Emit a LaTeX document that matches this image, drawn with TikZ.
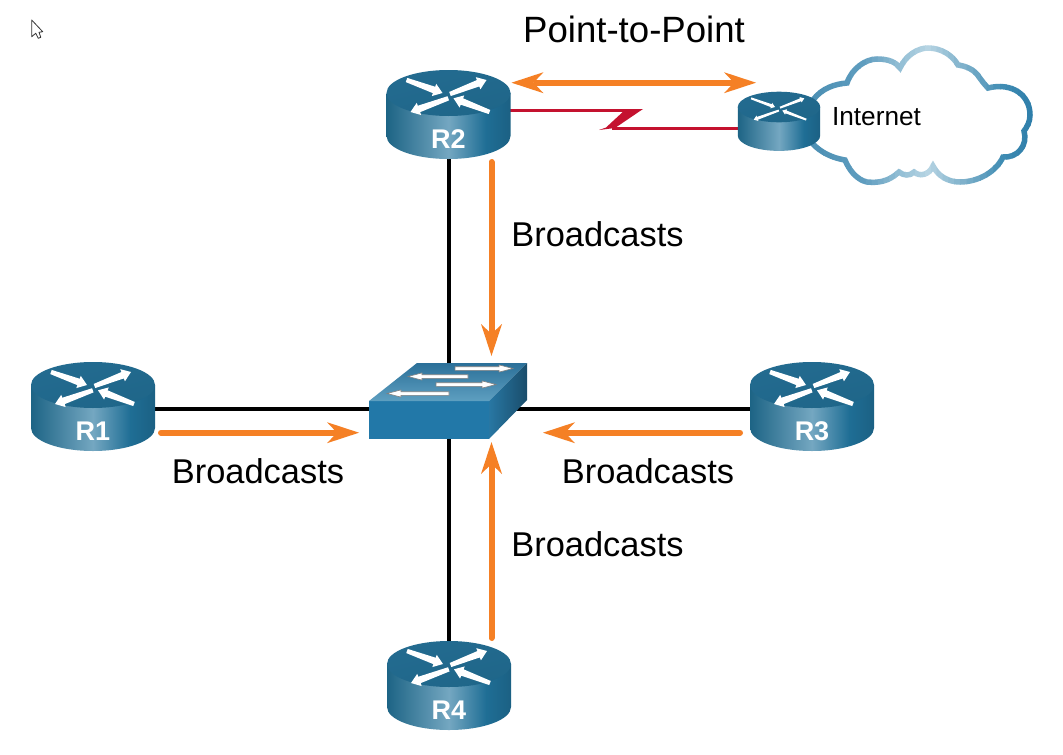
\documentclass[tikz,border=0pt]{standalone}
\usepackage{fontspec}
\setmainfont{Liberation Sans}
\usetikzlibrary{calc,arrows.meta}
\pgfdeclarelayer{back}
\pgfsetlayers{back,main}
\definecolor{orng}{HTML}{F58025}
\definecolor{redl}{HTML}{C4122F}
\definecolor{sa}{HTML}{2C6F93}
\definecolor{sb}{HTML}{1D6485}
\definecolor{sc}{HTML}{74A7C1}
\definecolor{sd}{HTML}{1F6E95}
\definecolor{se}{HTML}{123E57}
\definecolor{ta}{HTML}{236B90}
\definecolor{tb}{HTML}{3682A9}
\definecolor{tc}{HTML}{1F6689}
\definecolor{c0}{HTML}{4B8FB3}
\definecolor{c1}{HTML}{5F9DBF}
\definecolor{c2}{HTML}{8FBCD3}
\definecolor{c3}{HTML}{B6D4E3}
\definecolor{c4}{HTML}{7FB1CB}
\definecolor{c5}{HTML}{3F8CB3}
\definecolor{c6}{HTML}{2A7BA8}
\pgfdeclarehorizontalshading{rside}{100bp}{
  color(0bp)=(sa); color(25bp)=(sb); color(50bp)=(sc); color(65bp)=(sd); color(100bp)=(se)}
\tikzset{
  orangearrow/.style={draw=orng,line width=6,line cap=round,-{Stealth[length=32pt,width=21pt,inset=10pt,line width=0pt]}},
  orangedouble/.style={draw=orng,line width=6,{Stealth[length=32pt,width=21pt,inset=10pt,line width=0pt]}-{Stealth[length=32pt,width=21pt,inset=10pt,line width=0pt]}},
  blackline/.style={draw=black,line width=4},
  serial/.style={draw=redl,line width=2.6},
  biglabel/.style={anchor=base,font=\fontsize{34.4}{40}\selectfont,inner sep=0},
  rlabel/.style={text=white,font=\fontsize{27}{30}\selectfont\bfseries,inner sep=0},
  anchorbox/.style={inner sep=0,minimum width=10,minimum height=10}
}
\newcommand\rtarrow[4]{%
  \coordinate (t) at (#1,#2);
  \coordinate (h) at (#3,#4);
  \coordinate (n) at ($(h)!\dn pt!(t)$);
  \fill[white] ($(t)!\da pt!90:(h)$) -- ($(n)!\db pt!90:(h)$) -- ($(n)!\dc pt!90:(h)$) -- (h)
     -- ($(n)!\dc pt!-90:(h)$) -- ($(n)!\db pt!-90:(h)$) -- ($(t)!\da pt!-90:(h)$) -- cycle;
}
\newcommand\router[5]{% name, cx, cy, scale, label
  \begin{scope}[shift={(#2,#3)},scale=#4]
    \shade[shading=rside] (-62,0) -- (-62,43) .. controls (-62,55.7) and (-34.2,66) .. (0,66)
       .. controls (34.2,66) and (62,55.7) .. (62,43) -- (62,0) -- cycle;
    \shade[top color=ta,middle color=tb,bottom color=tc,shading angle=15]
       (0,0) ellipse [x radius=62,y radius=23];
    \pgfmathsetmacro\da{2.2*#4}\pgfmathsetmacro\db{3.4*#4}\pgfmathsetmacro\dc{6.5*#4}\pgfmathsetmacro\dn{9*#4}
    \rtarrow{-42}{-13}{-6}{0}
    \rtarrow{1.5}{1}{38}{-13}
    \rtarrow{-0.2}{5.3}{-38}{19}
    \rtarrow{41}{19}{5}{5.3}
    \node[rlabel] (#1) at (0,#5) {\routertext};
  \end{scope}
}
\newcommand\swtarrow[4]{%
  \coordinate (t) at (#1,#2);
  \coordinate (h) at (#3,#4);
  \coordinate (n) at ($(h)!14pt!(t)$);
  \filldraw[fill=white,draw=black!50,line width=0.6]
     ($(t)!1.8pt!90:(h)$) -- ($(n)!1.8pt!90:(h)$) -- ($(n)!3.6pt!90:(h)$) -- (h)
     -- ($(n)!3.6pt!-90:(h)$) -- ($(n)!1.8pt!-90:(h)$) -- ($(t)!1.8pt!-90:(h)$) -- cycle;
}
\def\cloudp{(813,100) .. controls (822,88) and (835,84) .. (847,83)
  .. controls (852,68) and (866,59) .. (877,59)
  .. controls (888,59) and (896,62) .. (900,68)
  .. controls (906,55) and (918,48) .. (928,48)
  .. controls (942,48) and (953,56) .. (958,65)
  .. controls (966,66) and (975,70) .. (979,77)
  .. controls (982,81) and (985,85) .. (988,88)
  .. controls (1012,82) and (1030,95) .. (1030,115)
  .. controls (1030,122) and (1027,127) .. (1024,131)
  .. controls (1028,145) and (1018,158) .. (1003,157)
  .. controls (996,172) and (978,182) .. (960,182)
  .. controls (948,182) and (938,176) .. (933,166)
  .. controls (929,175) and (920,177) .. (914,172)
  .. controls (910,176) and (904,176) .. (899,172)
  .. controls (888,182) and (878,183) .. (867,182)
  .. controls (857,180) and (849,170) .. (845,160)
  .. controls (832,158) and (820,152) .. (812,143) -- cycle}
\begin{document}
\begin{tikzpicture}[x=1pt,y=-1pt]
\useasboundingbox (0,0) rectangle (1063,755);
\begin{pgfonlayer}{back}
  \fill[white] (0,0) rectangle (1063,755);
\end{pgfonlayer}
% cursor
\draw[line width=0.8,draw=black!80,fill=white,line join=round]
  (31.7,20) -- (31.7,36.7) -- (35.7,33.3) -- (38.3,38.3) -- (40.8,37.3) -- (39,32.3) -- (42.7,31.7) -- cycle;
% cloud
\fill[white] \cloudp;
\foreach \xa/\ca/\xb/\cb in {805/c0/860/c1,860/c1/895/c2,895/c2/925/c3,925/c3/960/c4,960/c4/1000/c5,1000/c5/1036/c6}{
  \foreach \k in {0,...,5}{
    \pgfmathsetmacro\xs{\xa+(\xb-\xa)*\k/6}
    \pgfmathsetmacro\xe{\xa+(\xb-\xa)*(\k+1)/6+0.5}
    \pgfmathsetmacro\mixv{100*\k/6}
    \begin{scope}
      \clip (\xs,0) rectangle (\xe,200);
      \draw[line width=5.5,color=\cb!\mixv!\ca] \cloudp;
    \end{scope}
  }
}
\node[anchor=base,font=\fontsize{26.2}{30}\selectfont,inner sep=0] (inet) at (876.5,125) {Internet};
% routers
\def\routertext{R2}\router{r2lab}{448.5}{93}{1}{46}
\def\routertext{R1}\router{r1lab}{93}{385}{1}{46}
\def\routertext{R3}\router{r3lab}{812}{385}{1}{46}
\def\routertext{R4}\router{r4lab}{449}{664}{1}{46}
\def\routertext{}\router{irlab}{779}{107}{0.665}{30}
\node[anchorbox] (r2) at (448.5,115) {};
\node[anchorbox] (r1) at (93,409) {};
\node[anchorbox] (r3) at (812,409) {};
\node[anchorbox] (r4) at (448.5,686) {};
\node[anchorbox] (ir) at (779,128) {};
% switch
\node[anchorbox] (sw) at (448.5,409) {};
\fill[color={rgb,255:red,34;green,120;blue,168}] (369,401) rectangle (489,439);
\shade[top color={rgb,255:red,43;green,112;blue,153},bottom color={rgb,255:red,94;green,159;blue,192}]
  (369,401) -- (417,363) -- (527,363) -- (489,401) -- cycle;
\shade[left color={rgb,255:red,40;green,119;blue,163},right color={rgb,255:red,26;green,77;blue,107}]
  (489,401) -- (527,363) -- (527,400) -- (489,439) -- cycle;
\swtarrow{455}{368.5}{513}{368.5}
\swtarrow{468}{376.5}{408}{376.5}
\swtarrow{436}{384.5}{496}{384.5}
\swtarrow{449}{393.5}{387}{393.5}
% connectors behind the devices
\begin{pgfonlayer}{back}
  \draw[blackline] (r2) -- (sw);
  \draw[blackline] (r4) -- (sw);
  \draw[blackline] (r1) -- (sw);
  \draw[blackline] (r3) -- (sw);
\end{pgfonlayer}
% serial link
\coordinate (za) at (630,110.5);
\coordinate (zb) at (612,128.5);
\begin{pgfonlayer}{back}
  \draw[serial] (r2 |- za) -- (za);
  \draw[serial] (zb) -- (ir |- zb);
\end{pgfonlayer}
\fill[redl] (626,109) -- (643,109) -- (615,128) -- (599,130) -- (606,127.5) -- cycle;
% orange arrows
\coordinate (da) at (511.5,82.7);
\coordinate (db) at (756,82.7);
\draw[orangedouble] (da) -- (db);
\coordinate (a1s) at (161,432.7);
\coordinate (a1e) at (359,432.7);
\draw[orangearrow] (a1s) -- (a1e);
\coordinate (a3s) at (740,432.7);
\coordinate (a3e) at (543,432.7);
\draw[orangearrow] (a3s) -- (a3e);
\coordinate (a2s) at (491.5,162);
\coordinate (a2e) at (491.5,356);
\draw[orangearrow] (a2s) -- (a2e);
\coordinate (a4s) at (491.5,638);
\coordinate (a4e) at (491.5,442);
\draw[orangearrow] (a4s) -- (a4e);
% labels
\node[biglabel,font=\fontsize{36.6}{42}\selectfont] (ptp) at (634,42) {Point-to-Point};
\node[biglabel] (b2) at (597.5,246) {Broadcasts};
\node[biglabel] (b1) at (258,483) {Broadcasts};
\node[biglabel] (b3) at (648,483) {Broadcasts};
\node[biglabel] (b4) at (597.5,556) {Broadcasts};
\end{tikzpicture}
\end{document}
